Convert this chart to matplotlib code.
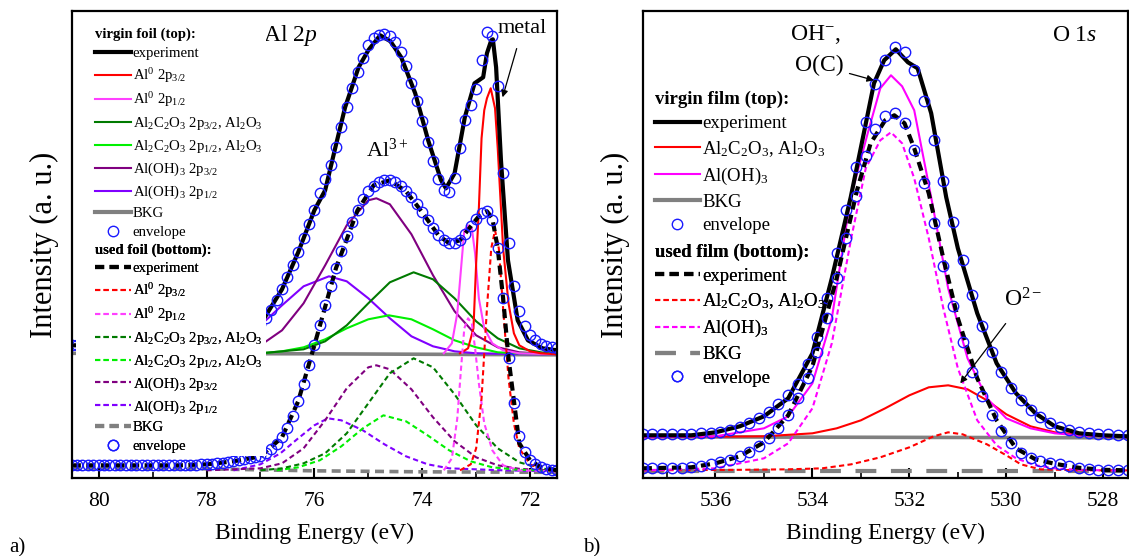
"""XPS Al 2p / O 1s 对比图 — 原始箔 vs 使用后箔"""

import matplotlib
matplotlib.use("Agg")
import matplotlib.pyplot as plt
from matplotlib.lines import Line2D
from matplotlib.patches import Rectangle
from matplotlib.ticker import MultipleLocator
import numpy as np

plt.rcParams["font.family"] = ["Liberation Serif", "DejaVu Serif"]
plt.rcParams["mathtext.fontset"] = "custom"
plt.rcParams["mathtext.rm"] = "Liberation Serif"
plt.rcParams["mathtext.it"] = "Liberation Serif:italic"
plt.rcParams["mathtext.bf"] = "Liberation Serif:bold"

RED = "#ff0000"
PINK = "#ff40ff"
MAGENTA = "#ff00ff"
DGREEN = "#007a00"
LGREEN = "#00f000"
PURPLE = "#800080"
VIOLET = "#8000ff"
GRAY = "#808080"
BLUE = "#1a1aff"

# ---------------------------------------------------------------------------
# a) Al 2p
# ---------------------------------------------------------------------------
A_ENV_E = np.round(np.arange(80.5, 71.45, -0.1), 1)  # 0.1 eV step

a_top_env = [133, 133, 133, 133, 133, 133, 133, 133, 133, 133, 133, 133, 133,
             133, 133, 134, 134, 134, 134, 134, 135, 135, 135, 136, 136,
             137, 137, 138, 139, 140, 141, 143, 145, 147, 150,
             154, 160, 168, 178, 189, 201, 213, 226, 240, 254,
             268, 285, 299, 313, 331, 351, 371, 390, 406, 420,
             433, 440, 443, 444, 442, 436, 426, 412, 395, 377,
             357, 336, 317, 299, 288, 286, 300, 330, 358, 373,
             389, 418, 446, 442, 392, 305, 235, 192, 167, 152,
             143, 138, 134, 132, 131, 130]
a_bot_env = [13, 13, 13, 13, 13, 13, 13, 13, 13, 13, 13, 13, 13,
             13, 13, 13, 13, 13, 13, 13, 13, 13, 13, 13, 14,
             14, 14, 15, 15, 16, 17, 18, 19, 20, 21,
             22, 25, 29, 34, 41, 50, 62, 77, 94, 113,
             133, 153, 173, 192, 210, 227, 242, 256, 268, 279,
             287, 292, 296, 298, 298, 296, 292, 287, 281, 274,
             266, 258, 250, 243, 238, 235, 235, 238, 244, 252,
             259, 265, 267, 258, 230, 180, 120, 75, 42, 26,
             18, 14, 11, 9.5, 8.5, 8]

a_top_exp_e = [80.5, 79.0, 78.0, 77.5, 77.0, 76.6, 76.3, 76.0, 75.8, 75.61, 75.43,
               75.18, 75.0, 74.78, 74.59, 74.39, 74.13, 73.89, 73.65, 73.56, 73.40,
               73.21, 73.03, 72.87, 72.80, 72.72, 72.69, 72.63, 72.54, 72.41, 72.23,
               72.04, 71.77, 71.5]
a_top_exp = [133, 133, 136, 140, 154, 189, 226, 268, 288, 331, 371,
             411, 428, 443, 437, 421, 385, 338, 298, 290, 305,
             361, 395, 401, 425, 438, 439, 411, 318, 218, 158,
             138, 130, 128]
a_bot_exp_e = [80.5, 78.5, 78.0, 77.5, 77.0, 76.6, 76.3, 76.0, 75.6, 75.2, 74.9,
               74.6, 74.3, 74.0, 73.7, 73.5, 73.3, 73.1, 72.95, 72.8, 72.7, 72.6,
               72.5, 72.4, 72.2, 72.0, 71.8, 71.5]
a_bot_exp = [13, 13, 14, 17, 22, 41, 77, 133, 210, 268, 293,
             298, 287, 266, 243, 235, 238, 252, 262, 267, 260, 230,
             180, 120, 35, 18, 11, 8]

# virgin foil components
a_top_al0_32_e = [73.3, 73.15, 73.05, 73.0, 72.95, 72.9, 72.85, 72.8, 72.73, 72.65,
                  72.6, 72.55, 72.5, 72.4, 72.3, 72.2, 72.0, 71.8, 71.5]
a_top_al0_32 = [125, 130, 150, 215, 270, 340, 368, 380, 390, 370,
                330, 280, 230, 175, 145, 133, 127, 125, 124]
a_top_al0_12_e = [73.6, 73.45, 73.35, 73.28, 73.22, 73.15, 73.08, 73.02, 72.95,
                  72.85, 72.7, 72.5, 72.2, 71.5]
a_top_al0_12 = [125, 135, 165, 210, 248, 253, 250, 225, 180, 150, 135, 128, 125, 124]
a_top_ox32_e = [77.0, 76.2, 75.8, 75.4, 75.0, 74.6, 74.16, 73.8, 73.4, 73.0, 72.6,
                72.2, 71.8, 71.5]
a_top_ox32 = [125, 129, 137, 153, 175, 196, 206, 199, 180, 157, 140, 130, 126, 124]
a_top_ox12_e = [77.0, 76.6, 76.2, 75.8, 75.4, 75.0, 74.62, 74.2, 73.8, 73.4, 73.0,
                72.6, 72.2, 71.5]
a_top_ox12 = [125, 127, 131, 139, 150, 159, 163, 159, 149, 138, 131, 126, 125, 124]
a_top_oh32_e = [78.0, 77.0, 76.6, 76.2, 75.8, 75.4, 75.0, 74.85, 74.6, 74.2, 73.8,
                73.4, 73.0, 72.6, 72.2, 71.5]
a_top_oh32 = [126, 133, 148, 175, 213, 253, 278, 280, 274, 244, 203,
              167, 143, 131, 126, 124]
a_top_oh12_e = [78.0, 77.0, 76.6, 76.2, 75.73, 75.4, 75.0, 74.6, 74.2, 73.8, 73.4,
                73.0, 72.0, 71.5]
a_top_oh12 = [130, 153, 173, 192, 202, 197, 180, 160, 142, 132, 127, 125, 124, 124]
a_top_bkg_e = [80.5, 76.0, 71.5]
a_top_bkg = [125, 124.5, 123.5]

# used foil components
a_bot_al0_32_e = [73.3, 73.1, 73.0, 72.9, 72.8, 72.72, 72.65, 72.58, 72.5, 72.4,
                  72.3, 72.2, 72.0, 71.8, 71.5]
a_bot_al0_32 = [8, 14, 30, 80, 170, 230, 248, 230, 170, 100, 55, 30, 14, 9, 7]
a_bot_al0_12_e = [73.6, 73.45, 73.35, 73.28, 73.22, 73.15, 73.08, 73.02, 72.95,
                  72.85, 72.7, 72.5, 72.2, 71.5]
a_bot_al0_12 = [8, 20, 60, 110, 150, 160, 155, 130, 95, 55, 28, 13, 8, 7]
a_bot_ox32_e = [77.0, 76.6, 76.2, 75.8, 75.4, 75.0, 74.6, 74.16, 73.8, 73.4, 73.0,
                72.6, 72.2, 71.8, 71.5]
a_bot_ox32 = [8, 10, 15, 25, 45, 75, 105, 120, 111, 84, 53, 30, 16, 10, 8]
a_bot_ox12_e = [76.7, 76.3, 75.9, 75.5, 75.1, 74.72, 74.3, 73.9, 73.5, 73.1,
                72.7, 72.2, 71.5]
a_bot_ox12 = [8, 11, 18, 32, 50, 63, 57, 43, 28, 17, 11, 8.5, 7.5]
a_bot_oh32_e = [78.0, 77.0, 76.6, 76.2, 75.8, 75.4, 75.0, 74.85, 74.6, 74.2, 73.8,
                73.4, 73.0, 72.6, 72.2, 71.5]
a_bot_oh32 = [8, 10, 15, 30, 58, 90, 111, 113, 109, 89, 61, 37, 21, 13, 9.5, 7.5]
a_bot_oh12_e = [77.5, 77.0, 76.63, 76.3, 76.0, 75.75, 75.5, 75.1, 74.7, 74.3, 73.9,
                73.5, 72.5, 71.5]
a_bot_oh12 = [8, 14, 25, 40, 53, 60, 58, 48, 34, 22, 14, 10, 8, 7]
a_bot_bkg_e = [80.5, 78.0, 76.0, 74.0, 71.5]
a_bot_bkg = [10, 9.5, 7.5, 6.5, 6]

# ---------------------------------------------------------------------------
# b) O 1s
# ---------------------------------------------------------------------------
B_ENV_E = np.round(np.arange(537.5, 527.45, -0.2), 1)  # 0.2 eV step

b_top_env = [44, 44, 44, 44, 44, 44, 45, 45, 46, 48,
             51, 55, 60, 66, 74, 83, 94, 114, 141, 180,
             225, 268, 311, 356, 394, 418, 431, 426, 408, 377,
             338, 297, 256, 218, 183, 152, 126, 106, 90, 78,
             68, 61, 55, 51, 48, 46, 45, 44, 44, 43, 43]
b_bot_env = [10, 10, 10, 10, 10, 11, 12, 14, 16.5, 18,
             22, 26, 32, 40, 50, 63, 80, 100, 126, 160,
             200, 240, 282, 322, 349, 362, 365, 355, 328, 295,
             255, 212, 172, 136, 106, 82, 63, 47, 35, 25,
             20, 17.5, 15.5, 14, 12, 10.5, 9.5, 8.5, 8, 8, 8]

b_top_exp_e = [537.5, 536.5, 536.0, 535.5, 535.0, 534.5, 534.0, 533.6, 533.21, 532.94,
               532.73, 532.52, 532.28, 532.03, 531.83, 531.55, 531.24, 531.0, 530.6,
               530.2, 529.8, 529.4, 529.0, 528.5, 528.0, 527.5]
b_top_exp = [43, 43, 46, 52, 62, 80, 125, 200, 281, 345,
             395, 418, 429, 416, 410, 365, 281, 230, 165,
             115, 85, 65, 52, 45, 43, 42]
b_bot_exp_e = [537.5, 536.5, 536.0, 535.5, 535.0, 534.5, 534.0, 533.5, 533.08, 532.8,
               532.5, 532.31, 532.1, 531.9, 531.6, 531.3, 531.0, 530.6, 530.2, 529.8,
               529.4, 529.0, 528.5, 528.0, 527.5]
b_bot_exp = [10, 11, 15, 22, 36, 63, 112, 200, 288, 335,
             358, 363, 355, 330, 285, 220, 160, 100, 58, 30,
             19, 14.5, 10.5, 8.5, 8]

b_top_ox_e = [537.5, 535.0, 534.0, 533.5, 533.0, 532.5, 532.0, 531.6, 531.2, 530.8,
              530.4, 530.0, 529.5, 529.0, 528.0, 527.5]
b_top_ox = [41, 42, 45, 50, 58, 70, 83, 91, 93, 89, 78, 64, 52, 46, 42, 41]
b_top_oh_e = [537.5, 536.0, 535.0, 534.5, 534.0, 533.6, 533.21, 532.86, 532.6, 532.38,
              532.15, 531.9, 531.55, 531.2, 530.8, 530.4, 530.0, 529.5, 529.0, 528.5,
              527.5]
b_top_oh = [41, 42, 50, 62, 95, 160, 281, 345, 390, 403,
            392, 368, 281, 190, 120, 80, 60, 50, 45, 43, 41]
b_top_bkg_e = [537.5, 527.5]
b_top_bkg = [41.5, 40.5]

b_bot_ox_e = [537.5, 535.5, 534.5, 533.8, 533.2, 532.6, 532.0, 531.5, 531.2, 530.9,
              530.4, 530.0, 529.7, 529.3, 528.5, 527.5]
b_bot_ox = [8, 8.5, 9, 10, 14, 21, 31, 42, 46, 44, 34, 23, 14, 9, 8, 8]
b_bot_oh_e = [537.5, 536.0, 535.0, 534.5, 534.0, 533.6, 533.2, 532.9, 532.6, 532.38,
              532.15, 531.9, 531.6, 531.3, 531.0, 530.6, 530.2, 529.8, 529.4, 529.0,
              528.5, 527.5]
b_bot_oh = [8, 10, 20, 35, 70, 135, 240, 310, 338, 346,
            335, 300, 240, 170, 110, 58, 33, 20, 13, 10, 8.5, 7.5]
b_bot_bkg_e = [537.5, 527.5]
b_bot_bkg = [7.5, 7.5]

# ---------------------------------------------------------------------------
DASH_BLK = (0, (2.2, 1.3))
DASH_THIN = (0, (2.5, 1.6))
DASH_BKG_B = (0, (5, 3.5))
ENV_KW = dict(ls="none", marker="o", mfc="none", mec=BLUE, ms=7.5, mew=1.0)


def _style_axes(ax, xlim, major, minor):
    ax.set_xlim(*xlim)
    ax.set_ylim(0, 467.6)
    ax.xaxis.set_major_locator(MultipleLocator(major))
    ax.xaxis.set_minor_locator(MultipleLocator(minor))
    ax.tick_params(axis="x", which="major", direction="in", length=7, width=1.5,
                   labelsize=15.5, pad=10, top=False)
    ax.tick_params(axis="x", which="minor", direction="in", length=4, width=1.2, top=False)
    ax.tick_params(axis="y", left=False, labelleft=False)
    for s in ax.spines.values():
        s.set_linewidth(1.6)
    ax.set_xlabel("Binding Energy (eV)", fontsize=17, labelpad=8)
    ax.set_ylabel("Intensity (a. u.)", fontsize=22, labelpad=9)


def _group_legend(ax, handles, labels, title, anchor, size, hlen, spacing):
    leg = ax.legend(handles, labels, title=title, loc="upper left",
                    bbox_to_anchor=anchor, fontsize=size, alignment="left",
                    title_fontproperties={"weight": "bold", "size": size},
                    handlelength=hlen, handletextpad=0.12, labelspacing=spacing,
                    borderpad=0, borderaxespad=0, frameon=False)
    ax.add_artist(leg)
    return leg


fig = plt.figure(figsize=(11.29, 5.56), dpi=100)
ax_a = fig.add_axes([0.0635, 0.1397, 0.4299, 0.8411])
ax_b = fig.add_axes([0.5693, 0.1397, 0.4294, 0.8411])

# ---- panel a ----
ax_a.plot(a_top_bkg_e, a_top_bkg, color=GRAY, lw=2.6)
ax_a.plot(a_top_oh12_e, a_top_oh12, color=VIOLET, lw=1.5)
ax_a.plot(a_top_oh32_e, a_top_oh32, color=PURPLE, lw=1.5)
ax_a.plot(a_top_ox12_e, a_top_ox12, color=LGREEN, lw=1.5)
ax_a.plot(a_top_ox32_e, a_top_ox32, color=DGREEN, lw=1.5)
ax_a.plot(a_top_al0_12_e, a_top_al0_12, color=PINK, lw=1.5)
ax_a.plot(a_top_al0_32_e, a_top_al0_32, color=RED, lw=1.5)
ax_a.plot(a_top_exp_e, a_top_exp, color="black", lw=3)
ax_a.plot(A_ENV_E, a_top_env, **ENV_KW)

ax_a.plot(a_bot_bkg_e, a_bot_bkg, color=GRAY, lw=2.6, ls=(0, (2.5, 1.5)))
ax_a.plot(a_bot_oh12_e, a_bot_oh12, color=VIOLET, lw=1.5, ls=DASH_THIN)
ax_a.plot(a_bot_oh32_e, a_bot_oh32, color=PURPLE, lw=1.5, ls=DASH_THIN)
ax_a.plot(a_bot_ox12_e, a_bot_ox12, color=LGREEN, lw=1.5, ls=DASH_THIN)
ax_a.plot(a_bot_ox32_e, a_bot_ox32, color=DGREEN, lw=1.5, ls=DASH_THIN)
ax_a.plot(a_bot_al0_12_e, a_bot_al0_12, color=PINK, lw=1.5, ls=DASH_THIN)
ax_a.plot(a_bot_al0_32_e, a_bot_al0_32, color=RED, lw=1.5, ls=DASH_THIN)
ax_a.plot(a_bot_exp_e, a_bot_exp, color="black", lw=3, ls=DASH_BLK)
ax_a.plot(A_ENV_E, a_bot_env, **ENV_KW)

_style_axes(ax_a, (80.5, 71.5), 2, 1)

# 图例白底（遮住左侧曲线）
ax_a.add_patch(Rectangle((0.009, 0.048), 0.391, 0.943, transform=ax_a.transAxes,
                         facecolor="white", edgecolor="none", zorder=4))

lbl_a = ["experiment", r"Al$^0$ 2p$_{3/2}$", r"Al$^0$ 2p$_{1/2}$",
         r"Al$_2$C$_2$O$_3$ 2p$_{3/2}$, Al$_2$O$_3$",
         r"Al$_2$C$_2$O$_3$ 2p$_{1/2}$, Al$_2$O$_3$",
         r"Al(OH)$_3$ 2p$_{3/2}$", r"Al(OH)$_3$ 2p$_{1/2}$", "BKG", "envelope"]
cols_a = ["black", RED, PINK, DGREEN, LGREEN, PURPLE, VIOLET, GRAY]
lws_a = [3, 1.5, 1.5, 1.5, 1.5, 1.5, 1.5, 3]
h_top = [Line2D([], [], color=c, lw=w) for c, w in zip(cols_a, lws_a)]
h_top.append(Line2D([], [], **ENV_KW))
h_bot = [Line2D([], [], color=c, lw=w, ls=DASH_BLK if w == 3 else DASH_THIN)
         for c, w in zip(cols_a, lws_a)]
h_bot.append(Line2D([], [], **ENV_KW))
_group_legend(ax_a, h_top, lbl_a, "virgin foil (top):", (0.049, 0.964), 10.6, 2.4, 0.39)
_group_legend(ax_a, h_bot, lbl_a, "used foil (bottom):", (0.049, 0.503), 10.6, 2.4, 0.38)

ax_a.text(76.45, 443, r"Al 2$p$", fontsize=17, ha="center", va="center")
ax_a.text(74.64, 328, r"Al$^{3+}$", fontsize=16, ha="center", va="center")
ax_a.annotate("metal", xy=(72.51, 381), xytext=(72.14, 450), fontsize=16,
              ha="center", va="center",
              arrowprops=dict(arrowstyle="-|>", color="black", lw=0.9,
                              shrinkA=6, shrinkB=0, mutation_scale=10))

# ---- panel b ----
ax_b.plot(b_top_bkg_e, b_top_bkg, color=GRAY, lw=2.6)
ax_b.plot(b_top_ox_e, b_top_ox, color=RED, lw=1.5)
ax_b.plot(b_top_oh_e, b_top_oh, color=MAGENTA, lw=1.5)
ax_b.plot(b_top_exp_e, b_top_exp, color="black", lw=3)
ax_b.plot(B_ENV_E, b_top_env, **ENV_KW)

ax_b.plot(b_bot_bkg_e, b_bot_bkg, color=GRAY, lw=3, ls=DASH_BKG_B)
ax_b.plot(b_bot_ox_e, b_bot_ox, color=RED, lw=1.5, ls=DASH_THIN)
ax_b.plot(b_bot_oh_e, b_bot_oh, color=MAGENTA, lw=1.5, ls=DASH_THIN)
ax_b.plot(b_bot_exp_e, b_bot_exp, color="black", lw=3, ls=DASH_BLK)
ax_b.plot(B_ENV_E, b_bot_env, **ENV_KW)

_style_axes(ax_b, (537.5, 527.5), 2, 1)

lbl_b = ["experiment", r"Al$_2$C$_2$O$_3$, Al$_2$O$_3$", r"Al(OH)$_3$", "BKG", "envelope"]
cols_b = ["black", RED, MAGENTA, GRAY]
lws_b = [3, 1.5, 1.5, 3]
hb_top = [Line2D([], [], color=c, lw=w) for c, w in zip(cols_b, lws_b)]
hb_top.append(Line2D([], [], **ENV_KW))
hb_bot = [Line2D([], [], color="black", lw=3, ls=DASH_BLK),
          Line2D([], [], color=RED, lw=1.5, ls=DASH_THIN),
          Line2D([], [], color=MAGENTA, lw=1.5, ls=DASH_THIN),
          Line2D([], [], color=GRAY, lw=3, ls=DASH_BKG_B),
          Line2D([], [], **ENV_KW)]
_group_legend(ax_b, hb_top, lbl_b, "virgin film (top):", (0.025, 0.828), 13.5, 2.4, 0.36)
_group_legend(ax_b, hb_bot, lbl_b, "used film (bottom):", (0.025, 0.502), 13.5, 2.4, 0.36)

ax_b.text(528.6, 443, r"O 1$s$", fontsize=17, ha="center", va="center")
ax_b.text(533.95, 444, r"OH$^{-}$,", fontsize=17, ha="center", va="center")
ax_b.annotate("O(C)", xy=(532.73, 398), xytext=(533.85, 413), fontsize=17,
              ha="center", va="center",
              arrowprops=dict(arrowstyle="-|>", color="black", lw=0.9,
                              shrinkA=2, shrinkB=0, mutation_scale=10))
ax_b.annotate(r"O$^{2-}$", xy=(530.95, 95), xytext=(529.65, 178), fontsize=17,
              ha="center", va="center",
              arrowprops=dict(arrowstyle="-|>", color="black", lw=0.9,
                              shrinkA=8, shrinkB=0, mutation_scale=10))

fig.text(0.008, 0.006, "a)", fontsize=15)
fig.text(0.516, 0.006, "b)", fontsize=15)

fig.savefig("out.png", dpi=100)
